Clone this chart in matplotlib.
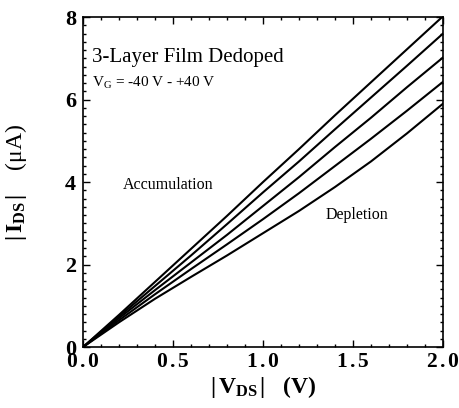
import matplotlib
matplotlib.use("Agg")
import matplotlib.pyplot as plt
from matplotlib.ticker import MultipleLocator

plt.rcParams['font.family'] = ['Liberation Serif', 'DejaVu Serif']
plt.rcParams['mathtext.fontset'] = 'custom'
plt.rcParams['mathtext.rm'] = 'Liberation Serif'
plt.rcParams['mathtext.bf'] = 'Liberation Serif:bold'
plt.rcParams['mathtext.it'] = 'Liberation Serif:italic'

# |V_DS| (V)
vds = [0.0, 0.2, 0.4, 0.6, 0.8, 1.0, 1.2, 1.4, 1.6, 1.8, 2.0]
# |I_DS| (uA), from accumulation (top) to depletion (bottom)
ids_1 = [0, 0.78, 1.58, 2.38, 3.18, 4.00, 4.80, 5.62, 6.42, 7.22, 8.02]
ids_2 = [0, 0.74, 1.48, 2.22, 2.98, 3.75, 4.50, 5.28, 6.05, 6.82, 7.60]
ids_3 = [0, 0.70, 1.38, 2.05, 2.72, 3.42, 4.12, 4.85, 5.56, 6.30, 7.02]
ids_4 = [0, 0.65, 1.28, 1.89, 2.49, 3.10, 3.73, 4.39, 5.05, 5.73, 6.43]
ids_5 = [0, 0.60, 1.17, 1.70, 2.22, 2.76, 3.30, 3.88, 4.50, 5.18, 5.90]

xticks = [0.0, 0.5, 1.0, 1.5, 2.0]
xtick_labels = [r'$\mathbf{0\,.0}$', r'$\mathbf{0\,.5}$', r'$\mathbf{1\,.0}$',
                r'$\mathbf{1\,.5}$', r'$\mathbf{2\,.0}$']
yticks = [0, 2, 4, 6, 8]

fig = plt.figure(figsize=(4.59, 4.08), dpi=100)
ax = fig.add_axes([0.181, 0.1495, 0.784, 0.8085])

for curve in [ids_1, ids_2, ids_3, ids_4, ids_5]:
    ax.plot(vds, curve, color='black', lw=1.5)

ax.set_xlim(0, 2.0)
ax.set_ylim(0, 8)
ax.set_xticks(xticks)
ax.set_xticklabels(xtick_labels)
ax.set_yticks(yticks)
ax.xaxis.set_minor_locator(MultipleLocator(0.1))
ax.yaxis.set_minor_locator(MultipleLocator(0.2))
ax.tick_params(which='both', direction='in', top=True, right=True, width=1.0)
ax.tick_params(which='major', length=5, labelsize=16)
ax.tick_params(axis='x', which='major', pad=4, labelsize=15.5)
ax.tick_params(axis='y', which='major', pad=5)
ax.tick_params(which='minor', length=2.5)
for lab in ax.get_yticklabels():
    lab.set_fontweight('bold')
for sp in ax.spines.values():
    sp.set_linewidth(1.2)

ax.set_xlabel(r'$\mathbf{|\,V_{DS}\,|}$   $\mathbf{(V)}$', fontsize=17, labelpad=2)
ax.set_ylabel(r'$\mathbf{|\,I_{DS}\,|}$    $\mathrm{(\mu A)}$', fontsize=17, labelpad=26)

ax.text(0.05, 7.03, '3-Layer Film Dedoped', fontsize=15, va='center')
ax.text(0.05, 6.4, r'$\mathrm{V_G}$ = -40 V - +40 V', fontsize=11, va='center')
ax.text(0.22, 3.93, 'Accumulation', fontsize=11.5, va='center')
ax.text(1.35, 3.2, 'Depletion', fontsize=11.5, va='center')

fig.savefig('out.png', dpi=100)
